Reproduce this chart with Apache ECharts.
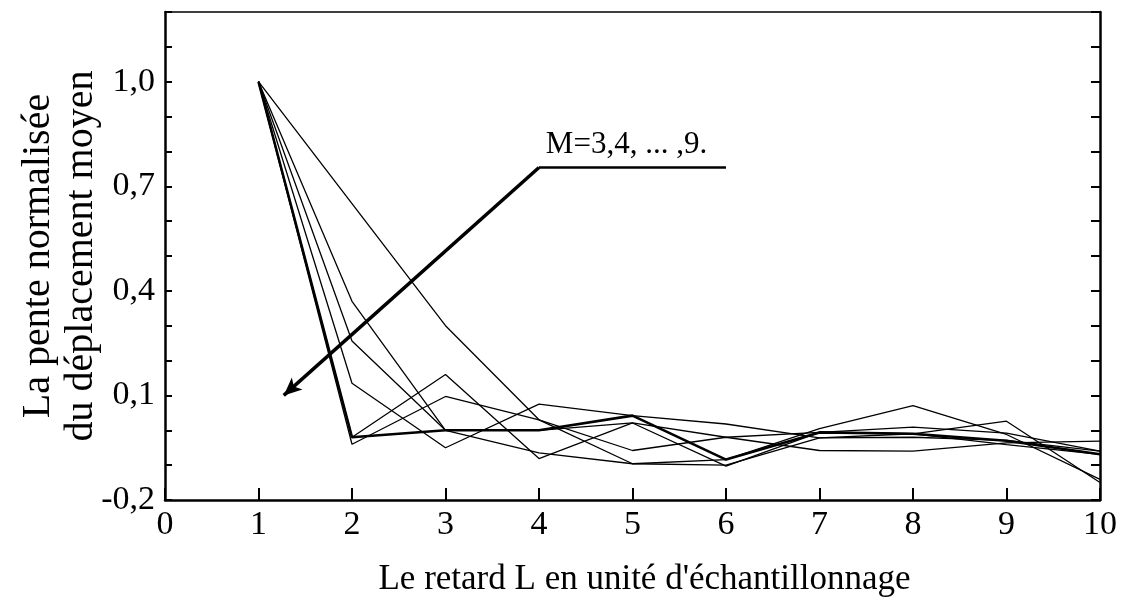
<!DOCTYPE html>
<html>
<head>
<meta charset="utf-8">
<script src="https://cdn.jsdelivr.net/npm/echarts@6/dist/echarts.min.js"></script>
<style>
html,body{margin:0;padding:0;background:#fff;}
#chart{width:1126px;height:608px;}
</style>
</head>
<body>
<div id="chart"></div>
<script>
const lags = [1, 2, 3, 4, 5, 6, 7, 8, 9, 10];
const seriesM3 = [1.0, 0.65, 0.30, 0.03, -0.096, -0.10, -0.022, -0.02, -0.029, -0.06];
const seriesM4 = [1.0, 0.37, 0.00, 0.00, 0.021, -0.02, -0.006, -0.01, -0.041, -0.069];
const seriesM5 = [1.0, 0.256, 0.00, -0.065, -0.096, -0.084, 0.005, 0.071, -0.012, -0.141];
const seriesM6 = [1.0, 0.135, -0.05, 0.075, 0.042, 0.018, -0.022, -0.01, 0.026, -0.15];
const seriesM7 = [1.0, -0.02, 0.16, -0.081, 0.021, -0.103, -0.006, 0.009, -0.008, -0.06];
const seriesM8 = [1.0, -0.04, 0.097, 0.03, -0.058, -0.02, -0.058, -0.06, -0.036, -0.031];
const seriesM9 = [1.0, -0.02, 0.00, 0.00, 0.042, -0.084, -0.006, -0.01, -0.03, -0.069];
const yTickValues = [-0.2, 0.1, 0.4, 0.7, 1.0];
const yTickLabels = ['-0,2', '0,1', '0,4', '0,7', '1,0'];
const annotationText = 'M=3,4, ... ,9.';
const annotationShelf = [[6.0, 0.754], [4.0, 0.754]];
const annotationArrow = [[4.0, 0.754], [1.27, 0.10]];
const annotationLabelAt = [4.02, 0.76];

const FONT = 'Liberation Serif';
const allSeries = [seriesM3, seriesM4, seriesM5, seriesM6, seriesM7, seriesM8, seriesM9];

function pairs(vals){ return lags.map((x,i)=>[x, vals[i]]); }

const lineSeries = allSeries.map((vals, k) => ({
  type: 'line',
  data: pairs(vals),
  symbol: 'none',
  silent: true,
  lineStyle: { color: '#000', width: k === 6 ? 2.6 : 1.3 },
  z: 3
}));

lineSeries.push({
  type: 'line',
  data: [],
  silent: true,
  markLine: {
    silent: true,
    animation: false,
    symbol: ['none', 'none'],
    label: { show: false },
    lineStyle: { color: '#000', width: 2.5, type: 'solid' },
    data: [
      [{ coord: annotationShelf[0] }, { coord: annotationShelf[1] }],
      [{ coord: annotationArrow[0], lineStyle: { width: 3.5 }, symbol: 'none' },
       { coord: annotationArrow[1], symbol: 'arrow', symbolSize: [12, 18] }]
    ]
  },
  markPoint: {
    silent: true,
    animation: false,
    symbol: 'rect',
    symbolSize: 0,
    data: [{
      coord: annotationLabelAt,
      label: {
        show: true,
        position: 'insideBottomLeft',
        formatter: annotationText,
        fontFamily: FONT,
        fontSize: 31,
        color: '#000',
        offset: [0, 0]
      }
    }]
  }
});

const chart = echarts.init(document.getElementById('chart'), null, { renderer: 'canvas' });
chart.setOption({
  animation: false,
  backgroundColor: '#fff',
  grid: { left: 165, right: 26, top: 12, bottom: 108 },
  xAxis: [{
    type: 'value', min: 0, max: 10, interval: 1,
    position: 'bottom',
    name: "Le retard L en unité d'échantillonnage",
    nameLocation: 'middle', nameGap: 62, nameMoveOverlap: false,
    nameTextStyle: { fontFamily: FONT, fontSize: 35, color: '#000', padding: [0, 0, 0, 24] },
    axisLine: { show: true, onZero: false, lineStyle: { color: '#000', width: 2.5 } },
    axisTick: { show: true, inside: true, length: 12, lineStyle: { color: '#000', width: 2 } },
    axisLabel: { fontFamily: FONT, fontSize: 34, color: '#000', margin: 8 },
    splitLine: { show: false }
  }, {
    type: 'value', min: 0, max: 10, interval: 1,
    position: 'top',
    axisLine: { show: true, onZero: false, lineStyle: { color: '#000', width: 1.5 } },
    axisTick: { show: false },
    axisLabel: { show: false },
    splitLine: { show: false }
  }],
  yAxis: [{
    type: 'value', min: -0.2, max: 1.2, interval: 0.1,
    position: 'left',
    name: 'La pente normalisée\ndu déplacement moyen',
    nameLocation: 'middle', nameGap: 62, nameRotate: 90, nameMoveOverlap: false,
    nameTextStyle: { fontFamily: FONT, fontSize: 40, lineHeight: 43, color: '#000', align: 'center' },
    axisLine: { show: true, onZero: false, lineStyle: { color: '#000', width: 2.5 } },
    axisTick: { show: true, inside: true, length: 7, lineStyle: { color: '#000', width: 2 } },
    axisLabel: {
      fontFamily: FONT, fontSize: 34, color: '#000', margin: 10,
      formatter: function (v) {
        const i = yTickValues.findIndex(t => Math.abs(t - v) < 1e-6);
        return i >= 0 ? yTickLabels[i] : '';
      }
    },
    splitLine: { show: false }
  }, {
    type: 'value', min: -0.2, max: 1.2, interval: 0.1,
    position: 'right',
    axisLine: { show: true, onZero: false, lineStyle: { color: '#000', width: 2.5 } },
    axisTick: { show: true, inside: true, length: 9, lineStyle: { color: '#000', width: 2 } },
    axisLabel: { show: false },
    splitLine: { show: false }
  }],
  series: lineSeries
});
</script>
</body>
</html>
